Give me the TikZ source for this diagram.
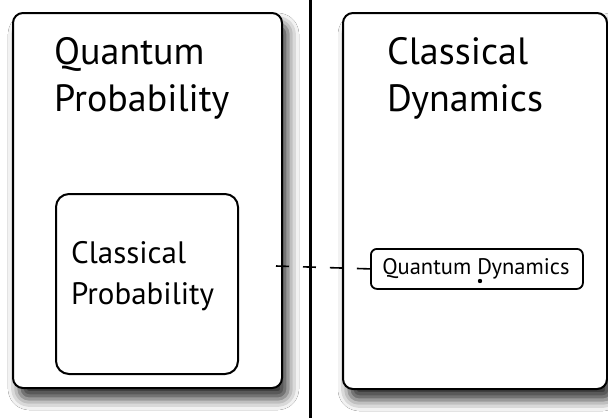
\documentclass[tikz,border=0pt]{standalone}
\usepackage{fontspec}
\setmainfont{PT Sans}
\usetikzlibrary{shadows.blur}
\begin{document}
\begin{tikzpicture}[x=1pt,y=-1pt,
  bigbox/.style={draw=black,line width=2pt,rounded corners=10pt,fill=white,
    blur shadow={shadow xshift=6pt,shadow yshift=-11pt,shadow blur radius=11pt,shadow opacity=80}},
  innerbox/.style={draw=black,line width=2pt,rounded corners=13pt,fill=white},
  qdbox/.style={draw=black,line width=1.8pt,rounded corners=6pt,fill=white},
  bigtext/.style={anchor=north west,align=left,font=\fontsize{38}{47}\selectfont,inner sep=0pt},
  midtext/.style={anchor=north west,align=left,font=\fontsize{31}{41}\selectfont,inner sep=0pt},
  smalltext/.style={font=\fontsize{22.5}{24}\selectfont,inner sep=0pt}]
\useasboundingbox (0,0) rectangle (608,418);
\fill[white] (0,0) rectangle (608,418);
% boxes
\node[bigbox,minimum width=269pt,minimum height=375pt,anchor=north west,inner sep=0pt] (qp) at (12,12) {};
\node[innerbox,minimum width=182pt,minimum height=180pt,anchor=north west,inner sep=0pt] (cp) at (55,193) {};
\node[bigbox,minimum width=264pt,minimum height=376pt,anchor=north west,inner sep=0pt] (cd) at (342,12) {};
\node[qdbox,minimum width=212pt,minimum height=40pt,anchor=north west,inner sep=0pt] (qd) at (370,248) {};
% divider
\coordinate (top) at (310,0);
\coordinate (bot) at (310,418);
\draw[line width=3pt] (top) -- (bot);
% texts
\node[bigtext] (t1) at (54,37) {Quantum\\Probability};
\node[bigtext] (t2) at (387,37) {Classical\\Dynamics};
\node[midtext] (t3) at (71,241) {Classical\\Probability};
\node[smalltext,anchor=center] (t4) at ([xshift=-1pt]qd.center) {Quantum Dynamics};
% dashed connector
\coordinate (ds) at (276,266);
\draw[line width=1.6pt,dash pattern=on 13pt off 14pt] (ds) -- (qd.west);
\fill (480,281) circle (2.2pt);
\end{tikzpicture}
\end{document}
